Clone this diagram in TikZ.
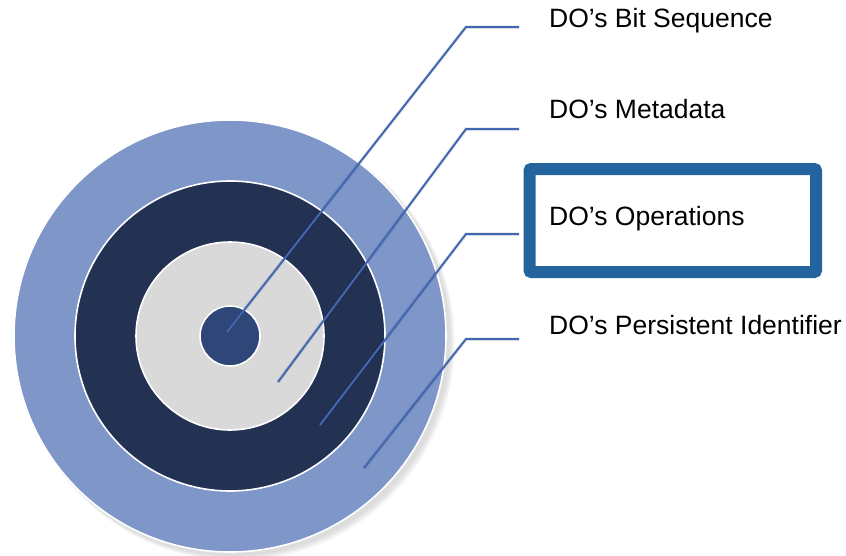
\documentclass[tikz,border=0pt]{standalone}
\usepackage{fontspec}
\setmainfont{Liberation Sans}
\begin{document}
\definecolor{ringouter}{RGB}{127,150,200}
\definecolor{ringdark}{RGB}{35,49,82}
\definecolor{ringgray}{RGB}{217,217,217}
\definecolor{ringcore}{RGB}{47,71,120}
\definecolor{leader}{RGB}{66,103,178}
\definecolor{framebox}{RGB}{35,100,158}
\begin{tikzpicture}[x=1pt,y=-1pt,
  ring/.style={circle,draw=white,line width=1.6pt,inner sep=0pt,minimum size=#1},
  leadline/.style={draw=leader,line width=2pt},
  leadshadow/.style={draw=black,opacity=0.07,line width=4pt},
  label/.style={anchor=base west,font=\fontsize{26.5}{31}\selectfont,inner sep=0pt}]
\useasboundingbox (0,0) rectangle (846,555);

% soft shadow under the outer disc
\foreach \k in {1,...,6}
  \fill[black,opacity=0.025] (233+0.6*\k,339+0.6*\k) circle (216+0.4*\k);

% concentric discs
\node[ring=432pt,fill=ringouter] (outer) at (230,336) {};
\node[ring=310pt,fill=ringdark] (dark) at (230,336) {};
\node[ring=188pt,fill=ringgray] (gray) at (230,336) {};
\node[ring=60pt,fill=ringcore] (core) at (230,336) {};

% leader end points and bends
\coordinate (e1) at (227,332);
\coordinate (b1) at (466,27);
\coordinate (t1) at (519,27);
\coordinate (e2) at (278,382);
\coordinate (b2) at (466,129);
\coordinate (t2) at (519,129);
\coordinate (e3) at (320,425);
\coordinate (b3) at (466,234);
\coordinate (t3) at (519,234);
\coordinate (e4) at (364,468);
\coordinate (b4) at (466,339);
\coordinate (t4) at (519,339);

% faint shadows of the leaders
\foreach \i in {1,2,3,4}
  \draw[leadshadow,shift={(2,3)}] (e\i) -- (b\i) -- (t\i);

% leaders
\foreach \i in {1,2,3,4}
  \draw[leadline] (e\i) -- (b\i) -- (t\i);

% labels
\node[label] (l1) at (549,27) {DO’s Bit Sequence};
\node[label] (l2) at (549,118) {DO’s Metadata};
\node[label] (l3) at (549,225) {DO’s Operations};
\node[label] (l4) at (549,334) {DO’s Persistent Identifier};

% highlight frame
\draw[draw=framebox,line width=12pt,rounded corners=2pt] (529.5,169) rectangle (816,272);
\end{tikzpicture}
\end{document}
